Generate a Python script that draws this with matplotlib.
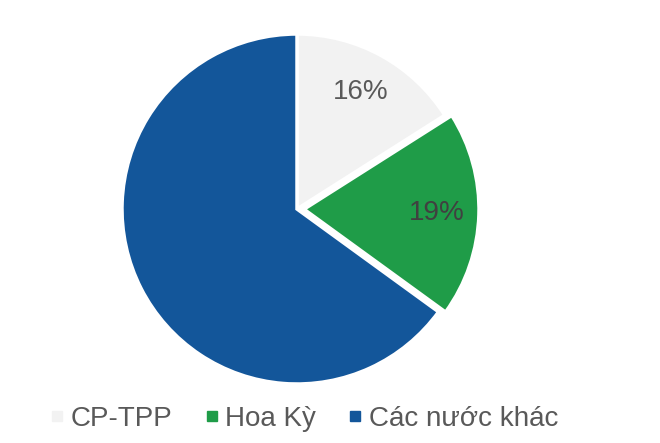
import matplotlib.pyplot as plt
from matplotlib.lines import Line2D

plt.rcParams['font.family'] = ['Liberation Sans', 'DejaVu Sans']

nhom = ["CP-TPP", "Hoa Kỳ", "Các nước khác"]
ty_le = [16, 19, 65]
mau = ["#f2f2f2", "#1f9c48", "#13569a"]
mau_chu = ["#595959", "#404040", None]
tach = [0, 0.04, 0]

fig = plt.figure(figsize=(6.6, 4.43), dpi=100)
r = 175
ax = fig.add_axes([(297 - r) / 660, (443 - 209 - r) / 443, 2 * r / 660, 2 * r / 443])

wedges, texts, autotexts = ax.pie(
    ty_le, colors=mau, startangle=90, counterclock=False, explode=tach,
    autopct='%d%%', pctdistance=0.76,
    wedgeprops=dict(edgecolor="white", linewidth=2.5),
    textprops=dict(fontsize=20))

for t, c in zip(autotexts, mau_chu):
    if c is None:
        t.set_text("")
    else:
        t.set_color(c)

ax.set_xlim(-1, 1)
ax.set_ylim(-1, 1)
ax.set_aspect("equal")
ax.axis("off")

# chu thich o duoi
handles = [Line2D([0], [0], marker="s", linestyle="none", markersize=6.5,
                  markerfacecolor=c, markeredgecolor=c) for c in mau]
fig.legend(handles, nhom, loc="center", bbox_to_anchor=(0.462, 0.055), ncol=3,
           frameon=False, fontsize=20, labelcolor="#595959",
           handlelength=0.4, handletextpad=0.3, columnspacing=1.2)

fig.savefig("out.png", dpi=100)
